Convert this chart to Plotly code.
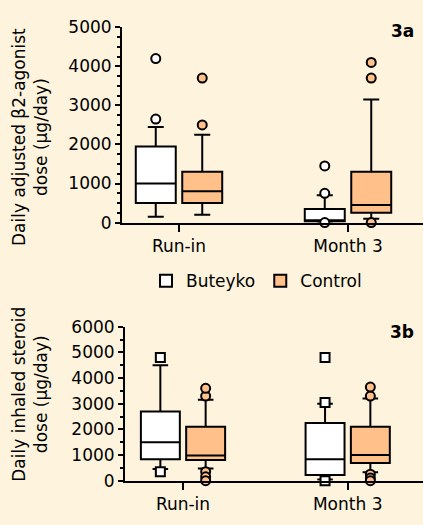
import plotly.graph_objects as go

# ---------------- data ----------------
categories = ["Run-in", "Month 3"]

# 3a: Daily adjusted beta2-agonist dose (ug/day)
buteyko_a_q1 = [500, 30]
buteyko_a_median = [1000, 60]
buteyko_a_q3 = [1950, 350]
buteyko_a_low = [150, 0]
buteyko_a_high = [2450, 700]
buteyko_a_outliers = [[2650, 4200], [750, 1450, 0]]

control_a_q1 = [500, 250]
control_a_median = [800, 450]
control_a_q3 = [1300, 1300]
control_a_low = [200, 100]
control_a_high = [2250, 3150]
control_a_outliers = [[2500, 3700], [0, 3700, 4100]]

# 3b: Daily inhaled steroid dose (ug/day)
buteyko_b_q1 = [830, 225]
buteyko_b_median = [1500, 830]
buteyko_b_q3 = [2700, 2250]
buteyko_b_low = [450, 50]
buteyko_b_high = [4500, 3000]
buteyko_b_outliers = [[350, 4800], [3050, 4800, 0]]

control_b_q1 = [810, 690]
control_b_median = [980, 1000]
control_b_q3 = [2100, 2100]
control_b_low = [470, 330]
control_b_high = [3150, 3200]
control_b_outliers = [[3300, 3600, 350, 150, 0], [3300, 3650, 250, 100, 0]]

a_ticks = [0, 1000, 2000, 3000, 4000, 5000]
b_ticks = [0, 1000, 2000, 3000, 4000, 5000, 6000]

series_names = ["Buteyko", "Control"]

# ---------------- style ----------------
BG = "#FEF3DC"
ORANGE = "#FFC08A"
WHITE = "#FFFFFF"
FONT = "DejaVu Sans"
W, H = 423, 525

fig = go.Figure()


def add_group(name, color, q1, med, q3, lo, hi, outliers, xa, ya, symbol):
    fig.add_trace(go.Box(
        x=categories, q1=q1, median=med, q3=q3, lowerfence=lo, upperfence=hi,
        name=name, offsetgroup=name, fillcolor=color,
        line=dict(color="black", width=2), whiskerwidth=0.4,
        xaxis=xa, yaxis=ya, showlegend=False, boxpoints=False,
        hoverinfo="skip",
    ))
    xs, ys = [], []
    for c, vals in zip(categories, outliers):
        for v in vals:
            xs.append(c)
            ys.append(v)
    fig.add_trace(go.Scatter(
        x=xs, y=ys, mode="markers", name=name, offsetgroup=name,
        marker=dict(symbol=symbol, size=9, color=color,
                    line=dict(color="black", width=2)),
        xaxis=xa, yaxis=ya, showlegend=False, cliponaxis=False,
        hoverinfo="skip",
    ))


add_group("Buteyko", WHITE, buteyko_a_q1, buteyko_a_median, buteyko_a_q3,
          buteyko_a_low, buteyko_a_high, buteyko_a_outliers, "x", "y", "circle")
add_group("Control", ORANGE, control_a_q1, control_a_median, control_a_q3,
          control_a_low, control_a_high, control_a_outliers, "x", "y", "circle")
add_group("Buteyko", WHITE, buteyko_b_q1, buteyko_b_median, buteyko_b_q3,
          buteyko_b_low, buteyko_b_high, buteyko_b_outliers, "x2", "y2", "square")
add_group("Control", ORANGE, control_b_q1, control_b_median, control_b_q3,
          control_b_low, control_b_high, control_b_outliers, "x2", "y2", "circle")

# legend entries
for name, color in zip(series_names, [WHITE, ORANGE]):
    fig.add_trace(go.Scatter(
        x=[None], y=[None], mode="markers", name=name,
        marker=dict(symbol="square", size=12, color=color,
                    line=dict(color="black", width=2)),
        showlegend=True, xaxis="x", yaxis="y",
    ))

tickfont = dict(family=FONT, size=17, color="black")


def yaxis_common(ticks, minor_dtick, domain):
    return dict(
        domain=domain, range=[0, ticks[-1]], tickvals=ticks,
        showline=True, linecolor="black", linewidth=2,
        ticks="outside", ticklen=5, tickwidth=2, tickcolor="black",
        minor=dict(dtick=minor_dtick, ticks="outside", ticklen=3,
                   tickwidth=2, tickcolor="black"),
        showgrid=False, zeroline=False, tickfont=tickfont,
        fixedrange=True,
    )


def xaxis_common(left_px, run_px, month_px, domain_anchor):
    unit = month_px - run_px
    lo = -(run_px - left_px) / unit
    hi = 1 + (W - month_px) / unit
    return dict(
        domain=[left_px / W, 1], anchor=domain_anchor,
        type="category", categoryorder="array", categoryarray=categories,
        range=[lo, hi], showline=True, linecolor="black", linewidth=2,
        ticks="outside", ticklen=7, tickwidth=2, tickcolor="black",
        showgrid=False, zeroline=False, tickfont=tickfont, fixedrange=True,
    )


fig.update_layout(
    width=W, height=H, margin=dict(l=0, r=0, t=0, b=0),
    paper_bgcolor=BG, plot_bgcolor=BG,
    boxmode="group", boxgap=0.45, boxgroupgap=0.14,
    scattermode="group", scattergap=0.45,
    font=dict(family=FONT, size=17, color="black"),
    xaxis=xaxis_common(122, 179, 348, "y"),
    yaxis=yaxis_common(a_ticks, 250, [1 - 221 / H, 1 - 18 / H]),
    xaxis2=xaxis_common(125, 183, 347.7, "y2"),
    yaxis2=yaxis_common(b_ticks, 500, [1 - 489.3 / H, 1 - 329.3 / H]),
    yaxis2_anchor="x2",
    yaxis_anchor="x",
    legend=dict(orientation="h", x=146 / W, y=1 - 282 / H,
                xanchor="left", yanchor="middle",
                bgcolor="rgba(0,0,0,0)", font=dict(family=FONT, size=17),
                itemwidth=30, tracegroupgap=0),
    annotations=[
        dict(text="Daily adjusted β2-agonist<br>dose (µg/day)", textangle=-90,
             xref="paper", yref="paper", x=30 / W, y=1 - 132 / H,
             xanchor="center", yanchor="middle", showarrow=False,
             font=dict(family=FONT, size=17)),
        dict(text="Daily inhaled steroid<br>dose (µg/day)", textangle=-90,
             xref="paper", yref="paper", x=30 / W, y=1 - 400 / H,
             xanchor="center", yanchor="middle", showarrow=False,
             font=dict(family=FONT, size=17)),
        dict(text="<b>3a</b>", xref="paper", yref="paper", x=416 / W,
             y=1 - 22 / H, xanchor="right", yanchor="middle", showarrow=False,
             font=dict(family=FONT, size=17)),
        dict(text="<b>3b</b>", xref="paper", yref="paper", x=416 / W,
             y=1 - 335 / H, xanchor="right", yanchor="middle", showarrow=False,
             font=dict(family=FONT, size=17)),
    ],
)

fig.write_html("out.html", config={"displayModeBar": False},
               post_script="document.body.style.margin='0';")
